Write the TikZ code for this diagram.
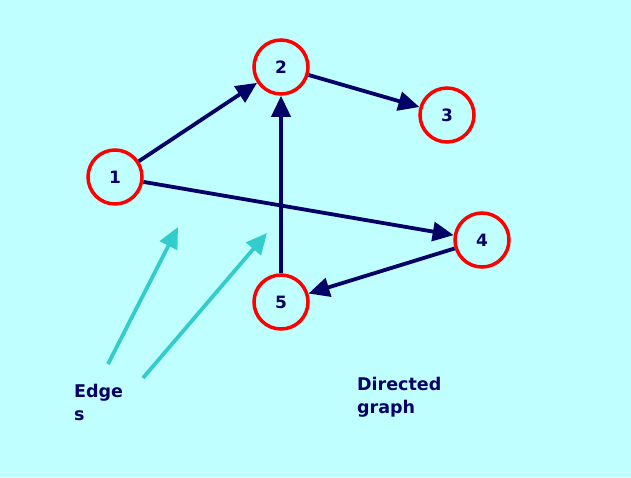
\documentclass[tikz,border=0pt]{standalone}
\usepackage{fontspec}
\setmainfont{DejaVu Sans}
\usetikzlibrary{arrows.meta}
\definecolor{bg}{HTML}{BFFFFF}
\definecolor{navy}{HTML}{000066}
\definecolor{cyanarrow}{HTML}{33CCCC}
\begin{document}
\begin{tikzpicture}[x=1pt,y=-1pt,
  vertex/.style={circle,draw=red,line width=3.5pt,minimum size=54pt,inner sep=0pt,
    font=\fontsize{17}{20}\selectfont\bfseries,text=navy},
  edge/.style={draw=navy,line width=3.8pt,-{Triangle[length=21pt,width=19pt]}},
  pointer/.style={draw=cyanarrow,line width=3.8pt,-{Triangle[length=21pt,width=19pt]}},
  caption/.style={anchor=north west,inner sep=0pt,align=left,text=navy,
    font=\fontsize{17.5}{23}\selectfont\bfseries}]
\fill[bg] (0,0) rectangle (631,477);
\useasboundingbox (0,0) rectangle (631,477);
\node[vertex] (n1) at (115,177) {1};
\node[vertex] (n2) at (281,67) {2};
\node[vertex] (n3) at (447,115) {3};
\node[vertex] (n4) at (482,240) {4};
\node[vertex] (n5) at (281,302) {5};
\draw[edge] (n1) -- (n2);
\draw[edge] (n2) -- (n3);
\draw[edge] (n1) -- (n4);
\draw[edge] (n4) -- (n5);
\draw[edge] (n5) -- (n2);
\coordinate (p1s) at (108,364);
\coordinate (p1t) at (178,227);
\coordinate (p2s) at (143,378);
\coordinate (p2t) at (267,233);
\draw[pointer] (p1s) -- (p1t);
\draw[pointer] (p2s) -- (p2t);
\node[caption] (edgesLabel) at (74,384) {Edge\\s};
\node[caption] (dirLabel) at (357,377) {Directed\\graph};
\end{tikzpicture}
\end{document}
